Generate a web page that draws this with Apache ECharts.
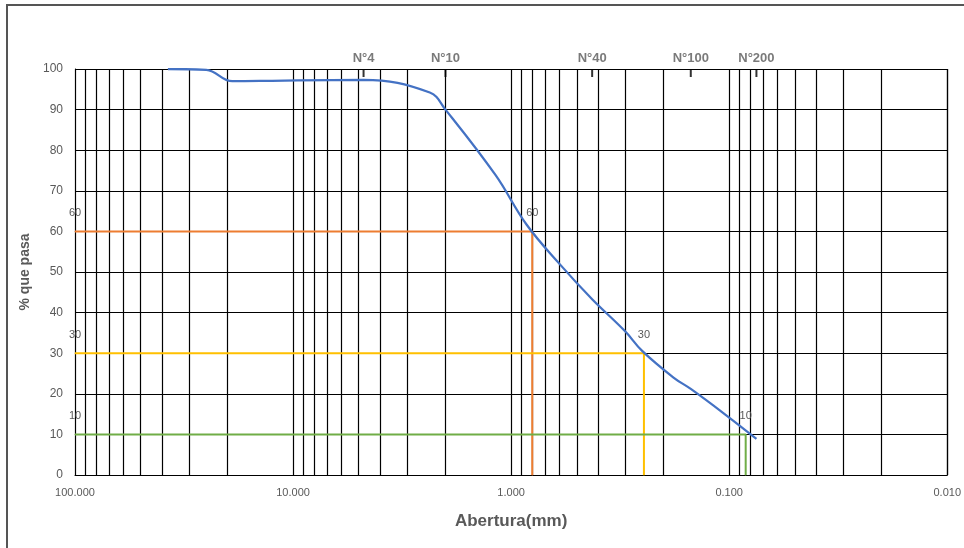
<!DOCTYPE html>
<html>
<head>
<meta charset="utf-8">
<script src="https://cdn.jsdelivr.net/npm/echarts@6/dist/echarts.min.js"></script>
<style>
  html, body { margin: 0; padding: 0; background: #fff; }
  #chart { width: 964px; height: 548px; }
</style>
</head>
<body>
<div id="chart"></div>
<script>
// granulometric curve data (abertura mm, % que pasa)
const aberturas = [37.5, 25, 19, 12.5, 9.5, 4.75, 2.36, 2.0, 1.18, 0.85, 0.6, 0.425, 0.3, 0.25, 0.18, 0.15, 0.106, 0.075];
const pasa = [100, 99.8, 97.0, 97.1, 97.2, 97.3, 94.2, 90.0, 73.9, 61.7, 52.0, 43.3, 35.4, 30.5, 24.0, 21.2, 15.2, 8.9];

// sieves marked on top
const tamices = ['N°4', 'N°10', 'N°40', 'N°100', 'N°200'];
const tamizAbertura = [4.75, 2.0, 0.425, 0.15, 0.075];

// D60, D30, D10
const dPercent = [60, 30, 10];
const dValues = [0.80, 0.246, 0.084];
const dColors = ['#ED7D31', '#FFC000', '#70AD47'];

const yTicks = [0, 10, 20, 30, 40, 50, 60, 70, 80, 90, 100];
const decades = [100, 10, 1, 0.1];

// log gridlines 100, 90, 80 ... 0.02, 0.01
let gridValues = [0.01];
decades.forEach(d => {
    for (let m = 1; m <= 9; m++) gridValues.push(+(d / 10 * m).toPrecision(3));
});
gridValues.push(100);

let chart = echarts.init(document.getElementById('chart'));

let font = '"Liberation Sans", Arial, sans-serif';

let series = [
    {
        type: 'line',
        data: [],
        z: 1,
        silent: true,
        markLine: {
            z: 1,
            silent: true,
            symbol: 'none',
            animation: false,
            label: { show: false },
            lineStyle: { color: '#000', width: 1.2, type: 'solid' },
            data: gridValues.map(v => ({ xAxis: v }))
        }
    }
];

dPercent.forEach((p, i) => {
    series.push({
        type: 'line',
        z: 6,
        symbol: 'circle',
        symbolSize: 1,
        showSymbol: true,
        lineStyle: { color: dColors[i], width: 2 },
        itemStyle: { color: dColors[i] },
        label: {
            show: true,
            position: 'top',
            distance: 12,
            color: '#595959',
            fontSize: 11,
            fontFamily: font,
            formatter: () => String(p)
        },
        data: [
            [100, p],
            [dValues[i], p],
            { value: [dValues[i], 0], label: { show: false } }
        ]
    });
});

series.push({
    type: 'line',
    z: 7,
    smooth: 0.4,
    showSymbol: false,
    lineStyle: { color: '#4472C4', width: 2.25 },
    data: aberturas.map((a, i) => [a, pasa[i]])
});

series.push({
    type: 'scatter',
    z: 8,
    clip: false,
    symbol: 'rect',
    symbolSize: [2, 8],
    symbolOffset: [0, 4],
    itemStyle: { color: '#000' },
    label: {
        show: true,
        position: 'top',
        distance: 4,
        color: '#595959',
        fontWeight: 'bold',
        fontSize: 13,
        fontFamily: font,
        formatter: p => tamices[p.dataIndex]
    },
    data: tamizAbertura.map(a => [a, 100])
});

let option = {
    animation: false,
    backgroundColor: '#fff',
    grid: { left: 75, right: 16, top: 69, bottom: 73 },
    graphic: [{
        type: 'rect',
        shape: { x: 7, y: 5, width: 1000, height: 1000 },
        style: { fill: 'none', stroke: '#555', lineWidth: 2 },
        silent: true
    }],
    xAxis: {
        type: 'log',
        logBase: 10,
        min: 0.01,
        max: 100,
        inverse: true,
        name: 'Abertura(mm)',
        nameLocation: 'middle',
        nameGap: 38,
        nameTextStyle: { color: '#595959', fontWeight: 'bold', fontSize: 17, fontFamily: font },
        axisLine: { show: true, lineStyle: { color: '#000' } },
        axisTick: { show: false },
        splitLine: { show: false },
        axisLabel: {
            margin: 12,
            color: '#595959',
            fontSize: 11,
            fontFamily: font,
            formatter: v => (+v).toFixed(3)
        }
    },
    yAxis: {
        type: 'value',
        min: yTicks[0],
        max: yTicks[yTicks.length - 1],
        interval: 10,
        name: '% que pasa',
        nameLocation: 'middle',
        nameGap: 40,
        nameTextStyle: { color: '#595959', fontWeight: 'bold', fontSize: 14, fontFamily: font },
        axisLine: { show: true, lineStyle: { color: '#000' } },
        axisTick: { show: false },
        splitLine: { show: true, lineStyle: { color: '#000', width: 1.2 } },
        axisLabel: { margin: 12, color: '#595959', fontSize: 12, fontFamily: font }
    },
    series: series
};

chart.setOption(option);
</script>
</body>
</html>
